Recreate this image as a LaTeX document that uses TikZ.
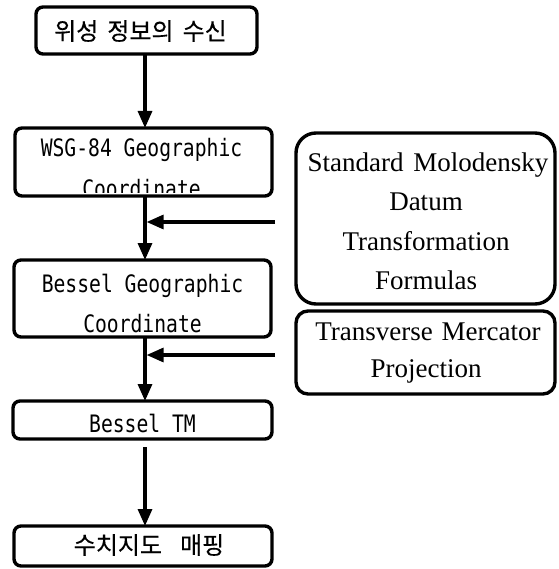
\documentclass[tikz,border=0pt]{standalone}
\usepackage{fontspec}
\setmainfont{Liberation Serif}
\newfontfamily\monof[FakeStretch=0.82]{DejaVu Sans Mono}
\newfontfamily\krf[FakeBold=0.4]{Noto Sans CJK KR}
\usetikzlibrary{arrows.meta}
\begin{document}
\begin{tikzpicture}[x=1pt,y=-1pt,
  box/.style={draw, line width=3.4pt, rounded corners=7pt, inner sep=0pt, outer sep=0pt, anchor=north west},
  bigbox/.style={box, rounded corners=20pt},
  midbox/.style={box, rounded corners=12pt},
  mono/.style={font=\monof\fontsize{24}{24}\selectfont, inner sep=0pt, anchor=base},
  kr/.style={font=\krf\fontsize{24}{24}\selectfont, inner sep=0pt},
  serif/.style={font=\fontsize{27}{27}\selectfont, inner sep=0pt, anchor=base},
  flow/.style={line width=3.2pt, -{Triangle[length=17pt,width=14pt]}}]
\useasboundingbox (0,0) rectangle (558,569);
\coordinate (sp) at (145,0);
% left boxes
\node[box, minimum width=221pt, minimum height=47pt] (b1) at (36,7) {};
\node[kr] (t1) at (140.5,31) {위성\hspace{9pt}정보의\hspace{9pt}수신};
\begin{scope}
  \clip (15,128) rectangle (272,193);
  \node[mono] (t2a) at (141.5,157) {WSG-84 Geographic};
  \node[mono] (t2b) at (141.5,197) {Coordinate};
\end{scope}
\node[box, minimum width=257pt, minimum height=68pt] (b2) at (15,128) {};
\node[box, minimum width=257pt, minimum height=77pt] (b3) at (14,260) {};
\node[mono] (t3a) at (142.5,292) {Bessel Geographic};
\node[mono] (t3b) at (142.5,332) {Coordinate};
\node[box, minimum width=259pt, minimum height=38pt] (b4) at (13,401) {};
\node[mono] (t4) at (142.5,432) {Bessel TM};
\node[box, minimum width=258pt, minimum height=40pt] (b5) at (14,526) {};
\node[kr] (t5) at (149,545) {수치지도\hspace{18pt}매핑};
% right boxes
\node[bigbox, minimum width=259pt, minimum height=171pt] (r1) at (296,133) {};
\node[serif] (s1) at (428,172) {Standard\hspace{3pt} Molodensky};
\node[serif] (s2) at (426,211) {Datum};
\node[serif] (s3) at (426,250) {Transformation};
\node[serif] (s4) at (426,289) {Formulas};
\node[midbox, minimum width=259pt, minimum height=83pt] (r2) at (296,311) {};
\node[serif] (s5) at (428,340) {Transverse\hspace{2pt} Mercator};
\node[serif] (s6) at (426,377) {Projection};
% connectors
\coordinate (in1) at (275,222);
\coordinate (in2) at (275,355);
\draw[flow] (b1.south -| sp) -- (b2.north -| sp);
\draw[flow] (b2.south -| sp) -- (b3.north -| sp);
\draw[flow] (b3.south -| sp) -- (b4.north -| sp);
\draw[flow] ([yshift=-8pt]b4.south -| sp) -- (b5.north -| sp);
\draw[flow] (in1) -- ([xshift=1.6pt]in1 -| sp);
\draw[flow] (in2) -- ([xshift=1.6pt]in2 -| sp);
\end{tikzpicture}
\end{document}
